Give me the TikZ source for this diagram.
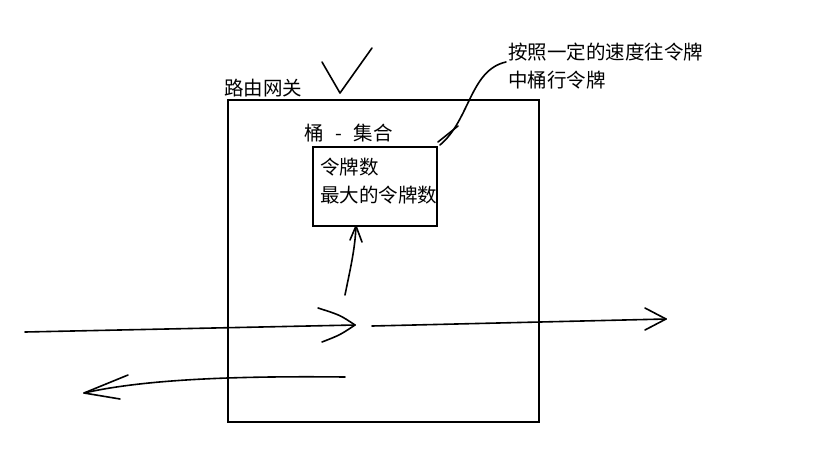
\documentclass[tikz,border=0pt]{standalone}
\usepackage{fontspec}
\setmainfont{Noto Sans CJK SC}
\begin{document}
\begin{tikzpicture}[x=1pt,y=-1pt,
  box/.style={draw,line width=2.8pt},
  pen/.style={line width=1.6pt,line cap=round,line join=round},
  lbl/.style={font=\fontsize{19.5}{28}\selectfont,inner sep=0pt,anchor=west}]
\useasboundingbox (0,0) rectangle (838,453);
\fill[white] (0,0) rectangle (838,453);
% boxes
\draw[box] (228,100) rectangle (539,422);
\draw[box] (313,147) rectangle (437,226);
% labels
\node[lbl] (t1) at (224,88) {路由网关};
\node[lbl] (t2) at (304,133) {桶\hspace{0.6em}-\hspace{0.6em}集合};
\node[lbl,align=left,anchor=north west] (t3) at (320,158) {令牌数\\最大的令牌数};
\node[lbl,align=left,anchor=north west] (t4) at (508,43) {按照一定的速度往令牌\\中桶行令牌};
% check mark
\draw[pen] (322,62) -- (340,93) -- (372,48);
% curve from text to bucket
\coordinate (c1) at (506,62);
\coordinate (c2) at (440,145);
\draw[pen] (c1) .. controls (470,70) and (470,120) .. (c2);
\draw[pen] (438,142) -- (458,126);
% up arrow
\coordinate (u0) at (345,295);
\coordinate (u1) at (356,226);
\draw[pen] (u0) .. controls (350,270) and (355,250) .. (u1);
\draw[pen] (350,240) -- (356,226) -- (362,242);
% incoming line
\coordinate (a0) at (25,332);
\coordinate (a1) at (355,325);
\draw[pen] (a0) -- (a1);
\draw[pen] (318,308) .. controls (340,315) .. (a1) .. controls (340,335) .. (322,342);
% outgoing line
\coordinate (b0) at (372,326);
\coordinate (b1) at (666,319);
\draw[pen] (b0) -- (b1);
\draw[pen] (645,308) -- (b1) -- (645,330);
% return arrow
\coordinate (r0) at (345,377);
\coordinate (r1) at (84,393);
\draw[pen] (r0) .. controls (250,376) and (150,378) .. (r1);
\draw[pen] (128,375) -- (r1) -- (120,399);
\end{tikzpicture}
\end{document}
